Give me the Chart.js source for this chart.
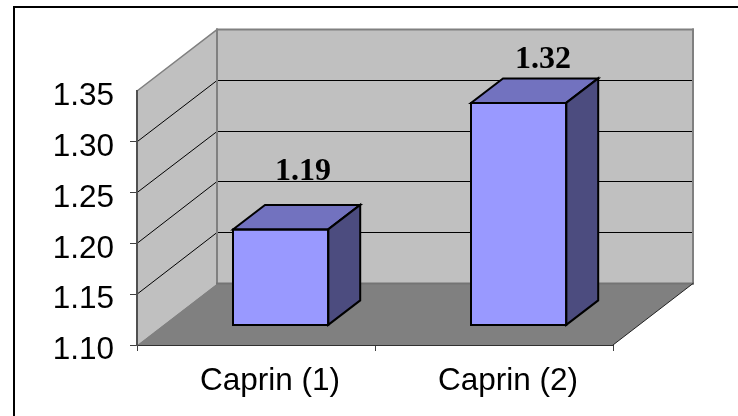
<!DOCTYPE html>
<html>
<head>
<meta charset="utf-8">
<style>
  html, body { margin: 0; padding: 0; background: #fff; }
  canvas { display: block; }
</style>
<script src="https://cdn.jsdelivr.net/npm/chart.js@4"></script>
</head>
<body>
<canvas id="chart" width="738" height="416"></canvas>
<script>
const categories = ['Caprin (1)', 'Caprin (2)'];
const values = [1.1945, 1.319];
const axisMin = 1.1;
const axisMax = 1.35;
const axisStep = 0.05;

// 3D look: how far the back wall and the bars are pushed into the picture
const wallDepth = { x: 80, y: -61.5 };
const barShift = { x: 24.6, y: -19.6 };
const barDepth = { x: 32, y: -24.5 };
// hand placed data labels in the original, offset from the middle of the front face
const labelNudge = [{ x: 22.5, y: -58 }, { x: 24.5, y: -43 }];

function poly(ctx, pts, fill, stroke, lineWidth) {
    ctx.beginPath();
    pts.forEach((p, i) => i ? ctx.lineTo(p[0], p[1]) : ctx.moveTo(p[0], p[1]));
    ctx.closePath();
    if (fill) {
        ctx.fillStyle = fill;
        ctx.fill();
    }
    if (stroke) {
        ctx.strokeStyle = stroke;
        ctx.lineWidth = lineWidth;
        ctx.lineJoin = 'miter';
        ctx.stroke();
    }
}

function line(ctx, x1, y1, x2, y2, color, width) {
    ctx.beginPath();
    ctx.moveTo(x1, y1);
    ctx.lineTo(x2, y2);
    ctx.strokeStyle = color;
    ctx.lineWidth = width;
    ctx.stroke();
}

const roomPlugin = {
    id: 'room',
    beforeDraw(chart) {
        const ctx = chart.ctx;
        const { left, right, top, bottom } = chart.chartArea;
        const dx = wallDepth.x, dy = wallDepth.y;
        ctx.save();

        // frame, only top and left are in the picture
        ctx.fillStyle = '#000';
        ctx.fillRect(13, 6, 725, 2);
        ctx.fillRect(13, 6, 2, 410);

        // walls and floor
        poly(ctx, [[left, bottom], [left + dx, bottom + dy], [left + dx, top + dy], [left, top]], '#c0c0c0');
        poly(ctx, [[left + dx, bottom + dy], [right + dx, bottom + dy], [right + dx, top + dy], [left + dx, top + dy]], '#c0c0c0');
        poly(ctx, [[left, bottom], [right, bottom], [right + dx, bottom + dy], [left + dx, bottom + dy]], '#808080');

        // gridlines run over both walls
        chart.scales.y.ticks.forEach(t => {
            if (t.value <= axisMin + 0.001 || t.value >= axisMax - 0.001) return;
            const y = chart.scales.y.getPixelForValue(t.value);
            // snap the back wall part so it stays one crisp pixel
            const backY = Math.floor(y + dy) + 0.5;
            line(ctx, left, y, left + dx, backY, '#000', 1);
            line(ctx, left + dx, backY, right + dx, backY, '#000', 1);
        });

        // wall edges
        ctx.lineCap = 'square';
        line(ctx, left, top, left + dx, top + dy, '#808080', 1.5);
        line(ctx, left + dx, top + dy, right + dx, top + dy, '#808080', 2);
        line(ctx, left + dx, top + dy, left + dx, bottom + dy, '#808080', 2);
        line(ctx, right + dx, top + dy, right + dx, bottom + dy, '#808080', 2);
        line(ctx, left + dx, bottom + dy, right + dx, bottom + dy, '#747474', 2);
        line(ctx, right, bottom, right + dx, bottom + dy, '#222', 1);
        ctx.restore();
    },
    beforeDatasetDraw(chart) {
        // the library's bars stand back from the front edge of the floor
        chart.ctx.save();
        chart.ctx.translate(barShift.x, barShift.y);
    },
    afterDatasetDraw(chart, args) {
        const ctx = chart.ctx;
        chart.getDatasetMeta(args.index).data.forEach(bar => {
            const l = bar.x - bar.width / 2, r = bar.x + bar.width / 2;
            const t = bar.y, b = bar.base;
            const dx = barDepth.x, dy = barDepth.y;
            poly(ctx, [[l, t], [r, t], [r + dx, t + dy], [l + dx, t + dy]], '#7272bf', '#000', 2);
            poly(ctx, [[r, t], [r + dx, t + dy], [r + dx, b + dy], [r, b]], '#4c4c7f', '#000', 2);
            poly(ctx, [[l, t], [r, t], [r, b], [l, b]], null, '#000', 2);
        });
        ctx.restore();
    },
    afterDatasetsDraw(chart) {
        const ctx = chart.ctx;
        ctx.save();
        ctx.font = 'bold 32px "Liberation Serif"';
        ctx.fillStyle = '#000';
        ctx.textAlign = 'center';
        ctx.textBaseline = 'middle';
        chart.getDatasetMeta(0).data.forEach((bar, i) => {
            const x = bar.x + barShift.x + labelNudge[i].x;
            const y = bar.y + barShift.y + labelNudge[i].y;
            ctx.fillText(values[i].toFixed(2), x, y);
        });
        ctx.restore();
    }
};

new Chart(document.getElementById('chart'), {
    type: 'bar',
    data: {
        labels: categories,
        datasets: [{
            data: values,
            base: axisMin,
            clip: false,
            backgroundColor: '#9999ff',
            borderWidth: 0,
            categoryPercentage: 0.4,
            barPercentage: 1
        }]
    },
    options: {
        responsive: false,
        animation: false,
        layout: { padding: { left: 0, top: 91, right: 125, bottom: 0 } },
        plugins: { legend: { display: false }, tooltip: { enabled: false } },
        scales: {
            x: {
                afterFit(scale) { scale.height = 71; },
                grid: { drawOnChartArea: false, tickLength: 6, tickColor: '#404040', tickWidth: 1 },
                border: { color: '#303030', width: 1 },
                ticks: {
                    font: { family: 'Liberation Sans', size: 31.5 },
                    color: '#000',
                    padding: 11,
                    labelOffset: 14,
                    autoSkip: false,
                    maxRotation: 0
                }
            },
            y: {
                min: axisMin,
                max: axisMax,
                afterFit(scale) { scale.width = 137; },
                grid: {
                    drawOnChartArea: false,
                    tickLength: 7,
                    tickWidth: 1,
                    tickColor: ctx => ctx.tick.value >= axisMax - 0.001 ? 'rgba(0,0,0,0)' : '#404040'
                },
                border: { color: '#505050', width: 2 },
                ticks: {
                    stepSize: axisStep,
                    font: { family: 'Liberation Sans', size: 31.5 },
                    color: '#000',
                    padding: 16,
                    labelOffset: 5.5,
                    callback: v => v.toFixed(2)
                }
            }
        }
    },
    plugins: [roomPlugin]
});
</script>
</body>
</html>
